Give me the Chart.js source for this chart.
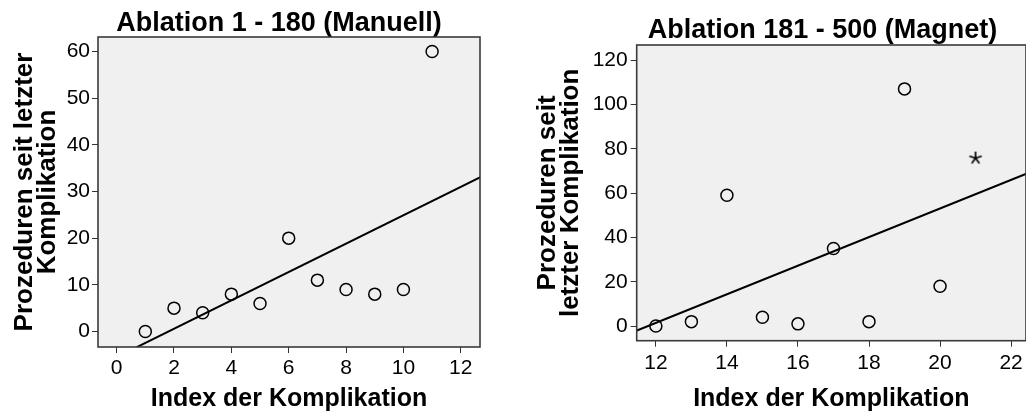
<!DOCTYPE html>
<html>
<head>
<meta charset="utf-8">
<script src="https://cdn.jsdelivr.net/npm/chart.js@4/dist/chart.umd.min.js"></script>
<style>
  html, body { margin: 0; padding: 0; background: #fff; overflow: hidden; }
  #wrap { position: relative; width: 1026px; height: 415px; overflow: hidden; }
  canvas { position: absolute; top: 0; }
  #left { left: 0; }
  #right { left: 510px; }
</style>
</head>
<body>
<div id="wrap">
  <canvas id="left" width="558" height="415"></canvas>
  <canvas id="right" width="625" height="415"></canvas>
</div>
<script>
// Ablation 1 - 180 (Manuell)
const leftIndex = [1, 2, 3, 4, 5, 6, 7, 8, 9, 10, 11];
const leftProc = [0, 5, 4, 8, 6, 20, 11, 9, 8, 9, 60];
const leftFitX = [0, 13];
const leftFitY = [-5.5, 34.0];
const leftXTicks = [0, 2, 4, 6, 8, 10, 12];
const leftYTicks = [0, 10, 20, 30, 40, 50, 60];

// Ablation 181 - 500 (Magnet)
const rightIndex = [12, 13, 14, 15, 16, 17, 18, 19, 20];
const rightProc = [0, 2, 59, 4, 1, 35, 2, 107, 18];
const extremeIndex = [21];
const extremeProc = [76];
const rightFitX = [11, 23];
const rightFitY = [-5.0, 72.4];
const rightXTicks = [12, 14, 16, 18, 20, 22];
const rightYTicks = [0, 20, 40, 60, 80, 100, 120];

const FONT = '"Liberation Sans", Arial, sans-serif';

function pts(xs, ys) {
  return xs.map((x, i) => ({ x: x, y: ys[i] }));
}

// thin five-armed asterisk used as the marker of the extreme value
const starImg = document.createElement('canvas');
starImg.width = 16; starImg.height = 16;
(function () {
  const c = starImg.getContext('2d');
  c.strokeStyle = '#000';
  c.lineWidth = 1.7;
  c.lineCap = 'butt';
  c.beginPath();
  for (let k = 0; k < 5; k++) {
    const a = -Math.PI / 2 + k * 2 * Math.PI / 5;
    c.moveTo(8, 8.5);
    c.lineTo(8 + 6.5 * Math.cos(a), 8.5 + 6.5 * Math.sin(a));
  }
  c.stroke();
})();

const frame = {
  id: 'frame',
  beforeDatasetsDraw(chart) {
    const a = chart.chartArea, ctx = chart.ctx;
    ctx.save();
    ctx.fillStyle = '#f0f0f0';
    ctx.fillRect(a.left, a.top, a.right - a.left, a.bottom - a.top);
    ctx.restore();
  },
  afterDatasetsDraw(chart) {
    const a = chart.chartArea, ctx = chart.ctx;
    ctx.save();
    ctx.strokeStyle = '#3a3a3a';
    ctx.lineWidth = 1.6;
    ctx.strokeRect(a.left, a.top, a.right - a.left, a.bottom - a.top);
    ctx.restore();
  }
};

function makeChart(id, cfg) {
  const datasets = [
    {
      type: 'line',
      data: pts(cfg.fitX, cfg.fitY),
      borderColor: '#000',
      borderWidth: 2,
      pointRadius: 0,
      fill: false
    },
    {
      data: pts(cfg.xs, cfg.ys),
      pointStyle: 'circle',
      pointRadius: 6,
      borderWidth: 1.5,
      borderColor: '#000',
      backgroundColor: 'rgba(0,0,0,0)'
    }
  ];
  if (cfg.exX) {
    datasets.push({
      data: pts(cfg.exX, cfg.exY),
      pointStyle: starImg,
      pointRadius: 8
    });
  }
  return new Chart(document.getElementById(id), {
    type: 'scatter',
    data: { datasets: datasets },
    options: {
      responsive: false,
      animation: false,
      layout: { padding: 0 },
      plugins: {
        legend: { display: false },
        tooltip: { enabled: false },
        title: {
          display: true,
          text: cfg.title,
          color: '#000',
          font: { family: FONT, size: 27, weight: 'bold', lineHeight: 0.95 },
          padding: cfg.titlePad
        }
      },
      scales: {
        x: {
          min: cfg.xMin, max: cfg.xMax,
          afterBuildTicks: s => { s.ticks = cfg.xTicks.map(v => ({ value: v })); },
          afterFit: s => { s.height = cfg.xHeight; },
          grid: { drawOnChartArea: false, drawTicks: true, tickLength: 6, tickColor: '#333' },
          border: { display: false },
          ticks: { color: '#000', padding: cfg.xTickPad, font: { family: FONT, size: 21 } },
          title: {
            display: true,
            text: 'Index der Komplikation',
            color: '#000',
            font: { family: FONT, size: 25, weight: 'bold', lineHeight: 1.2 },
            padding: { top: 0, bottom: 1 }
          }
        },
        y: {
          min: cfg.yMin, max: cfg.yMax,
          afterBuildTicks: s => { s.ticks = cfg.yTicks.map(v => ({ value: v })); },
          afterFit: s => { s.width = cfg.yWidth; },
          grid: { drawOnChartArea: false, drawTicks: true, tickLength: 6, tickColor: '#333' },
          border: { display: false },
          ticks: { color: '#000', padding: cfg.yTickPad, font: { family: FONT, size: 21 } },
          title: {
            display: true,
            text: cfg.yTitle,
            color: '#000',
            font: { family: FONT, size: 26, weight: 'bold', lineHeight: 0.9 },
            padding: { top: cfg.yTitleTop, bottom: 0 }
          }
        },
        y2: {
          position: 'right',
          ticks: { display: false },
          grid: { display: false },
          border: { display: false },
          afterFit: s => { s.width = cfg.rightGap; }
        }
      }
    },
    plugins: [frame]
  });
}

makeChart('left', {
  title: 'Ablation 1 - 180 (Manuell)',
  titlePad: { top: 10.5, bottom: 0.85 },
  xs: leftIndex, ys: leftProc,
  fitX: leftFitX, fitY: leftFitY,
  xMin: -0.65, xMax: 12.67, yMin: -3.33, yMax: 63.1,
  xTicks: leftXTicks, yTicks: leftYTicks,
  xHeight: 68, yWidth: 98, rightGap: 78,
  xTickPad: 3, yTickPad: 2,
  yTitle: ['Prozeduren seit letzter', 'Komplikation'],
  yTitleTop: 13
});

makeChart('right', {
  title: 'Ablation 181 - 500 (Magnet)',
  titlePad: { top: 18, bottom: 1.35 },
  xs: rightIndex, ys: rightProc,
  exX: extremeIndex, exY: extremeProc,
  fitX: rightFitX, fitY: rightFitY,
  xMin: 11.46, xMax: 22.42, yMin: -6.6, yMax: 126.8,
  xTicks: rightXTicks, yTicks: rightYTicks,
  xHeight: 74.3, yWidth: 126.7, rightGap: 109,
  xTickPad: 4, yTickPad: 3,
  yTitle: ['Prozeduren seit', 'letzter Komplikation'],
  yTitleTop: 26
});
</script>
</body>
</html>
